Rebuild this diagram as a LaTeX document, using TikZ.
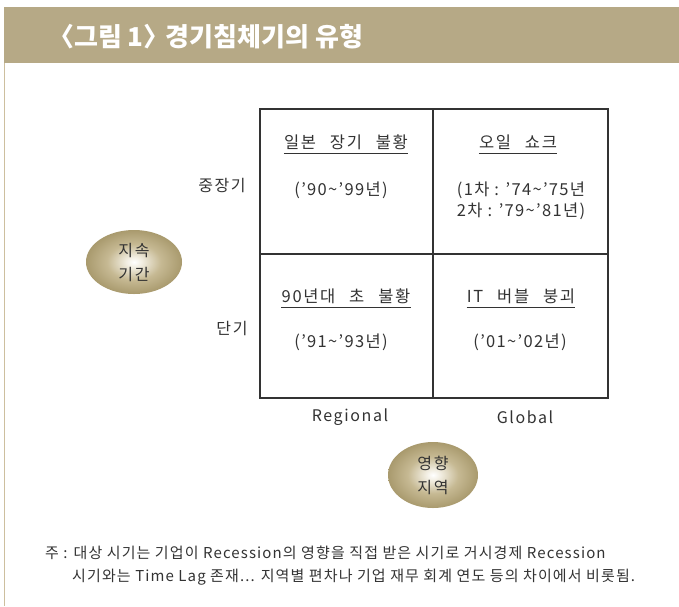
\documentclass[tikz,border=0pt]{standalone}
\usepackage{fontspec}
\setmainfont{Noto Sans CJK KR}
\newfontfamily\cellfont[LetterSpace=10,WordSpace=2.6]{Noto Sans CJK KR}
\newfontfamily\bodyfont[LetterSpace=8]{Noto Sans CJK KR}
\newfontfamily\notefont[LetterSpace=7.5]{Noto Sans CJK KR}
\usetikzlibrary{shapes.geometric}
\definecolor{barc}{HTML}{B6A986}
\definecolor{linec}{HTML}{CDBF9E}
\definecolor{edgec}{HTML}{7E6F44}
\definecolor{outc}{HTML}{8C7C4F}
\definecolor{out2c}{HTML}{A6976A}
\definecolor{midc}{HTML}{C6B993}
\definecolor{lightc}{HTML}{F2EEE2}
\definecolor{innerc}{HTML}{FFFFFF}
\definecolor{txt}{HTML}{333333}
\pgfdeclareradialshading{blobshade}{\pgfpoint{0bp}{0bp}}{%
  color(0bp)=(innerc); color(4bp)=(lightc); color(14bp)=(midc); color(26bp)=(out2c); color(33bp)=(outc); color(35.5bp)=(edgec); color(50bp)=(edgec)}
\tikzset{
  celltext/.style={text=txt, font=\bodyfont\fontsize{16.5}{21}\selectfont, inner sep=0pt},
  cellhead/.style={text=txt, font=\cellfont\fontsize{16.5}{20}\selectfont, inner xsep=0pt, inner ysep=4pt},
  axislabel/.style={text=txt, font=\cellfont\fontsize{16}{18}\selectfont, inner sep=0pt},
  blob/.style={ellipse, shading=blobshade, text=txt,
    font=\cellfont\fontsize{16}{24}\selectfont, align=center, inner sep=0pt},
  notetext/.style={text=txt, font=\notefont\fontsize{15}{16}\selectfont, inner sep=0pt, anchor=west}
}
\begin{document}
\begin{tikzpicture}[x=1pt,y=-1pt]
\useasboundingbox (0,0) rectangle (679,606);
\fill[white] (0,0) rectangle (679,606);
\fill[barc] (4,7) rectangle (679,63);
\draw[linec, line width=1.2pt] (4.6,63) -- (4.6,606);
\node[anchor=west, text=white, inner sep=0pt, font=\bfseries\fontsize{26}{28}\selectfont] (title) at (48,37) {〈그림 1〉\hspace{-10pt} 경기침체기의 유형};
% grid
\draw[txt, line width=1.3pt] (260,109) rectangle (608,398);
\draw[txt, line width=1.3pt] (433,109) -- (433,398);
\draw[txt, line width=1.3pt] (260,254) -- (608,254);
% cells
\node[cellhead] (h1) at (346,142) {일본 장기 불황};
\draw[txt, line width=1pt] (h1.south west) -- (h1.south east);
\node[celltext] (t1) at (341,190) {(’90\textasciitilde’99년)};
\node[cellhead] (h2) at (518,142) {오일 쇼크};
\draw[txt, line width=1pt] (h2.south west) -- (h2.south east);
\node[celltext, align=left] (t2) at (521,201) {(1차 : ’74\textasciitilde’75년\\2차 : ’79\textasciitilde’81년)};
\node[cellhead] (h3) at (346,296) {90년대 초 불황};
\draw[txt, line width=1pt] (h3.south west) -- (h3.south east);
\node[celltext] (t3) at (341,342) {(’91\textasciitilde’93년)};
\node[cellhead] (h4) at (521,296) {IT 버블 붕괴};
\draw[txt, line width=1pt] (h4.south west) -- (h4.south east);
\node[celltext] (t4) at (520,342) {(’01\textasciitilde’02년)};
% axis labels
\node[axislabel] (mid) at (222,186) {중장기};
\node[axislabel] (short) at (232,328) {단기};
\node[axislabel] (reg) at (350,417) {Regional};
\node[axislabel] (glob) at (525,417) {Global};
% blobs
\node[blob, minimum width=96pt, minimum height=64pt] (dur) at (134,262) {지속\\기간};
\node[blob, minimum width=90pt, minimum height=66pt] (area) at (433,475) {영향\\지역};
% note
\node[notetext] (n1) at (45,553) {주 : 대상 시기는 기업이 Recession의 영향을 직접 받은 시기로 거시경제 Recession};
\node[notetext] (n2) at (72,577) {시기와는 Time Lag 존재... 지역별 편차나 기업 재무 회계 연도 등의 차이에서 비롯됨.};
\end{tikzpicture}
\end{document}
